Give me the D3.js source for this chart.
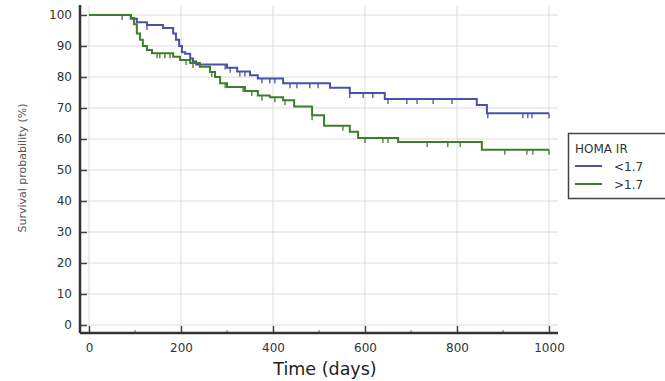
<!DOCTYPE html>
<html>
<head>
<meta charset="utf-8">
<script src="https://cdn.jsdelivr.net/npm/d3@7"></script>
<style>
  html, body { margin: 0; padding: 0; background: #fff; }
  svg { display: block; }
</style>
</head>
<body>
<svg id="chart"></svg>
<script>
// step points (time in days, survival %)
const blueTimes = [0, 91, 104, 126, 161, 183, 189, 196, 202, 209, 220, 226, 233, 300, 322, 350, 367, 422, 524, 567, 643, 843, 865];
const blueSurv  = [100, 98.8, 97.7, 96.8, 95.8, 94, 92, 90, 88, 87.5, 86, 85, 84, 83, 81.8, 80.6, 79.5, 78, 76.5, 74.8, 72.9, 71, 68.3];
const blueCensored = [126, 296, 307, 328, 339, 376, 393, 404, 437, 452, 480, 498, 567, 596, 617, 650, 691, 713, 748, 789, 867, 943, 954, 963, 1000];

const greenTimes = [0, 91, 98, 104, 111, 117, 126, 137, 183, 198, 220, 241, 263, 274, 285, 300, 339, 367, 393, 422, 446, 485, 511, 567, 585, 672, 854];
const greenSurv  = [100, 99, 97, 94, 92, 90, 88.7, 87.7, 86.5, 85.5, 84.5, 83.3, 81.6, 80, 78, 76.8, 75.5, 74, 73.5, 72.5, 70.5, 67.7, 64.3, 62.3, 60.3, 59, 56.5];
const greenCensored = [72, 148, 154, 165, 176, 211, 226, 267, 296, 335, 354, 376, 404, 426, 485, 552, 600, 639, 650, 735, 780, 807, 904, 952, 965, 1000];

const xTicks = [0, 200, 400, 600, 800, 1000];
const xMinorTicks = [100, 300, 500, 700, 900];
const yTicks = [0, 10, 20, 30, 40, 50, 60, 70, 80, 90, 100];

const groupNames = ["<1.7", ">1.7"];
const groupColors = ["#4c50a6", "#3d7d2b"];
const legendTitle = "HOMA IR";

const width = 665, height = 381;
const svg = d3.select("#chart").attr("width", width).attr("height", height);

const x = d3.scaleLinear().domain([0, 1000]).range([89, 549]);
const y = d3.scaleLinear().domain([0, 100]).range([325, 15]);

const frameLeft = 80, frameRight = 558, frameTop = 5, frameBottom = 333;

// grid
svg.append("g")
  .selectAll("line")
  .data(yTicks)
  .join("line")
  .attr("x1", frameLeft).attr("x2", frameRight)
  .attr("y1", d => y(d)).attr("y2", d => y(d))
  .attr("stroke", "#dcdcdc").attr("stroke-width", 1);

svg.append("g")
  .selectAll("line")
  .data(xTicks)
  .join("line")
  .attr("x1", d => x(d)).attr("x2", d => x(d))
  .attr("y1", frameTop).attr("y2", frameBottom)
  .attr("stroke", "#dcdcdc").attr("stroke-width", 1);

// axes
const yAxis = d3.axisLeft(y).tickValues(yTicks).tickSize(-7).tickPadding(8);
svg.append("g")
  .attr("transform", `translate(${frameLeft},0)`)
  .call(yAxis)
  .call(g => g.select(".domain").remove())
  .call(g => g.selectAll("line").attr("stroke", "#444").attr("stroke-width", 1.5))
  .call(g => g.selectAll("text")
    .attr("font-family", "DejaVu Sans, sans-serif")
    .attr("font-size", 12)
    .attr("fill", "#333"));

const xAxis = d3.axisBottom(x).tickValues(xTicks).tickFormat(d3.format("d")).tickSize(-7).tickPadding(10);
svg.append("g")
  .attr("transform", `translate(0,${frameBottom})`)
  .call(xAxis)
  .call(g => g.select(".domain").remove())
  .call(g => g.selectAll("line").attr("stroke", "#444").attr("stroke-width", 1.5))
  .call(g => g.selectAll("text")
    .attr("font-family", "DejaVu Sans, sans-serif")
    .attr("font-size", 12)
    .attr("fill", "#333"));

svg.append("g")
  .selectAll("line")
  .data(xMinorTicks)
  .join("line")
  .attr("x1", d => x(d)).attr("x2", d => x(d))
  .attr("y1", frameBottom).attr("y2", frameBottom - 3)
  .attr("stroke", "#666").attr("stroke-width", 1);

// frame lines
svg.append("line")
  .attr("x1", frameLeft).attr("x2", frameLeft)
  .attr("y1", frameTop).attr("y2", frameBottom)
  .attr("stroke", "#333").attr("stroke-width", 2.5);
svg.append("line")
  .attr("x1", frameLeft).attr("x2", frameRight)
  .attr("y1", frameBottom).attr("y2", frameBottom)
  .attr("stroke", "#333").attr("stroke-width", 2.5);

// axis titles
svg.append("text")
  .attr("x", 325).attr("y", 375)
  .attr("text-anchor", "middle")
  .attr("font-family", "DejaVu Sans, sans-serif")
  .attr("font-size", 17.5)
  .attr("fill", "#222")
  .text("Time (days)");

svg.append("text")
  .attr("transform", "translate(26,168) rotate(-90)")
  .attr("text-anchor", "middle")
  .attr("font-family", "DejaVu Sans, sans-serif")
  .attr("font-size", 11)
  .attr("fill", "#555")
  .text("Survival probability (%)");

// curves
const series = [
  { times: blueTimes, surv: blueSurv, censored: blueCensored, color: groupColors[0] },
  { times: greenTimes, surv: greenSurv, censored: greenCensored, color: groupColors[1] }
];

const line = d3.line()
  .x(d => x(d[0]))
  .y(d => y(d[1]))
  .curve(d3.curveStepAfter);

const survAt = (s, t) => {
  const i = d3.bisectRight(s.times, t) - 1;
  return s.surv[Math.max(0, i)];
};

series.forEach(s => {
  const pts = s.times.map((t, i) => [t, s.surv[i]]);
  pts.push([1000, s.surv[s.surv.length - 1]]);
  svg.append("path")
    .datum(pts)
    .attr("d", line)
    .attr("fill", "none")
    .attr("stroke", s.color)
    .attr("stroke-width", 2);

  svg.append("g")
    .selectAll("line")
    .data(s.censored)
    .join("line")
    .attr("x1", d => x(d)).attr("x2", d => x(d))
    .attr("y1", d => y(survAt(s, d)))
    .attr("y2", d => y(survAt(s, d)) + 5)
    .attr("stroke", s.color)
    .attr("stroke-width", 1.3);
});

// legend
const legend = svg.append("g");
legend.append("rect")
  .attr("x", 568.5).attr("y", 133.5)
  .attr("width", 110).attr("height", 65)
  .attr("fill", "#fff")
  .attr("stroke", "#444").attr("stroke-width", 1.5);
legend.append("text")
  .attr("x", 575).attr("y", 153)
  .attr("font-family", "DejaVu Sans, sans-serif")
  .attr("font-size", 12)
  .attr("fill", "#333")
  .text(legendTitle);
groupNames.forEach((name, i) => {
  const ly = 166 + i * 18;
  legend.append("line")
    .attr("x1", 575).attr("x2", 602)
    .attr("y1", ly).attr("y2", ly)
    .attr("stroke", groupColors[i]).attr("stroke-width", 2);
  legend.append("text")
    .attr("x", 614).attr("y", ly + 5)
    .attr("font-family", "DejaVu Sans, sans-serif")
    .attr("font-size", 12)
    .attr("fill", "#333")
    .text(name);
});
</script>
</body>
</html>
